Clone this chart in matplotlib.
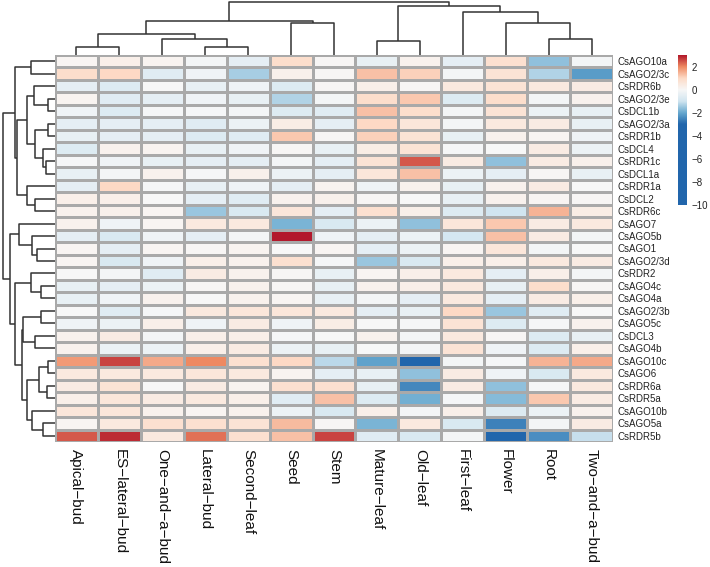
import numpy as np
import matplotlib
matplotlib.use("Agg")
import matplotlib.pyplot as plt
from matplotlib.colors import ListedColormap, LinearSegmentedColormap, Normalize

plt.rcParams['font.family'] = ['Liberation Sans', 'DejaVu Sans']

columns = ["Apical-bud", "ES-lateral-bud", "One-and-a-bud", "Lateral-bud", "Second-leaf",
           "Seed", "Stem", "Mature-leaf", "Old-leaf", "First-leaf", "Flower", "Root",
           "Two-and-a-bud"]

genes = ["CsAGO10a", "CsAGO2/3c", "CsRDR6b", "CsAGO2/3e", "CsDCL1b", "CsAGO2/3a", "CsRDR1b",
         "CsDCL4", "CsRDR1c", "CsDCL1a", "CsRDR1a", "CsDCL2", "CsRDR6c", "CsAGO7", "CsAGO5b",
         "CsAGO1", "CsAGO2/3d", "CsRDR2", "CsAGO4c", "CsAGO4a", "CsAGO2/3b", "CsAGO5c",
         "CsDCL3", "CsAGO4b", "CsAGO10c", "CsAGO6", "CsRDR6a", "CsRDR5a", "CsAGO10b",
         "CsAGO5a", "CsRDR5b"]

values = [
    [0.1, 0.3, 0.15, -0.1, -0.5, 0.9, 0.05, -0.4, 0.2, -0.5, 0.8, -1.6, -0.1],
    [0.9, 1.0, -0.6, -0.2, -1.4, 0.25, 0.05, 1.3, 1.1, -0.1, 0.7, -1.3, -2.2],
    [-0.5, -0.7, 0.0, -0.4, -0.2, -0.7, 0.05, 0.3, 0.05, 0.5, 0.7, 0.5, 0.4],
    [0.15, -0.6, -0.5, -0.2, -0.4, -1.3, -0.1, 0.9, 1.2, -0.7, 0.9, -0.1, 0.2],
    [-0.2, -0.7, -0.05, -0.05, -0.1, -0.7, -0.6, 1.3, 0.9, -0.1, 0.7, -0.3, -0.4],
    [-0.5, -0.5, -0.5, -0.6, -0.3, 0.35, -0.5, 1.0, 0.6, -0.1, 0.5, 0.4, -0.4],
    [-0.4, -0.5, -0.5, -0.7, -0.6, 1.2, 0.05, 1.1, 0.7, -0.4, 0.2, 0.1, -0.2],
    [-0.7, 0.2, 0.15, -0.4, -0.2, 0.05, -0.4, 0.35, 0.7, -0.05, 0.0, 0.4, -0.3],
    [-0.05, -0.2, -0.4, -0.5, -0.5, -0.1, -0.5, 0.7, 2.4, 0.4, -1.6, 0.4, 0.25],
    [-0.4, -0.1, 0.2, -0.05, 0.25, -0.3, -0.5, 0.6, 1.3, -0.3, -0.5, 0.05, -0.4],
    [-0.5, 1.0, -0.05, -0.4, -0.2, -0.5, 0.15, -0.2, 0.2, -0.4, 0.2, 0.4, 0.0],
    [0.3, 0.3, 0.0, -0.5, -0.6, 0.2, 0.25, 0.05, 0.0, -0.4, 0.2, 0.1, 0.05],
    [0.2, 0.25, 0.1, -1.5, -0.8, 0.6, -0.5, 0.8, 0.3, -0.7, -1.0, 1.5, 0.35],
    [0.2, -0.2, 0.1, 0.5, 0.5, -1.8, -0.8, -0.3, -1.6, 0.6, 1.2, 0.4, 0.5],
    [-0.5, -0.8, -0.2, -0.5, -0.1, 3.0, -0.2, -0.5, -0.3, -0.9, 1.3, 0.4, -0.1],
    [0.1, -0.5, 0.1, 0.05, 0.15, 0.0, 0.1, -0.5, -0.3, 0.1, 0.6, -0.1, 0.0],
    [0.1, -0.8, -0.2, 0.3, 0.2, 0.8, -0.05, -1.5, -0.8, 0.3, 0.3, 0.5, 0.4],
    [0.0, -0.1, -0.6, 0.4, 0.2, 0.05, -0.4, 0.1, 0.3, 0.5, -0.5, 0.3, -0.1],
    [-0.4, -0.5, -0.3, 0.05, 0.2, 0.05, -0.4, 0.2, 0.3, 0.5, -0.4, 0.9, 0.05],
    [-0.4, -0.2, 0.2, 0.0, 0.2, 0.1, -0.4, -0.1, -0.5, 0.5, -0.5, 0.4, 0.3],
    [0.0, -0.6, -0.05, 0.5, 0.6, 0.6, 0.5, -0.5, -0.4, 1.0, -1.5, -0.6, 0.0],
    [-0.2, -0.3, 0.3, -0.2, 0.4, -0.2, 0.35, 0.0, -0.05, 0.7, -0.7, -0.05, 0.2],
    [0.2, 0.4, -0.1, 0.3, 0.3, -0.05, 0.0, 0.2, -0.1, 0.5, 0.05, -0.7, -0.4],
    [0.2, -0.3, -0.3, 0.3, 0.4, -0.3, -0.4, 0.0, -0.1, 0.7, -0.2, -0.7, 0.3],
    [1.8, 2.6, 1.6, 2.0, 0.8, 1.0, -1.2, -2.1, -10.0, -0.1, -0.05, 1.5, 1.6],
    [0.5, 0.5, 0.5, 0.6, 0.5, 0.15, -0.5, -0.4, -1.6, 0.4, -0.2, -0.8, 0.5],
    [0.4, 0.7, 0.0, 0.4, 0.15, 0.8, 0.8, -0.4, -2.5, 0.4, -1.6, -0.05, 0.5],
    [0.3, 0.6, 0.4, 0.5, 0.3, -0.6, 1.3, -0.7, -1.9, -0.05, -1.7, 1.2, 0.4],
    [0.6, 0.6, 0.2, 0.1, 0.2, -0.3, -0.8, 0.3, -0.1, 0.3, -0.7, -0.3, 0.2],
    [0.1, 0.5, 0.8, 0.8, 0.7, 1.4, 0.05, -1.8, 0.5, -0.8, -2.6, -0.1, 0.4],
    [2.4, 2.8, 0.5, 2.2, 0.8, 1.3, 2.6, -0.6, -0.8, -0.1, -9.0, -2.4, -1.1],
]

# dendrograms: (left, right, merge height); leaves are indices in display order
col_tree = ((((0, 1, 8.3), (2, (3, 4, 8.3), 15.7), 21.3), (5, 6, 32.3), 34.3),
            ((7, 8, 14.3), (9, (10, (11, 12, 16.3), 32.3), 42.7), 49.0), 53.3)

row_top = ((0, 1, 24.0),
           ((((2, (3, 4, 6.7), 20.7), ((5, 6, 6.7), (7, (8, 9, 9.3), 12.3), 20.0), 28.3)),
            (10, (11, 12, 20.0), 28.3), 38.3), 40.0)
row_bottom = ((13, (14, (15, 16, 18.3), 22.7), 35.7),
              ((17, (18, 19, 14.3), 24.3),
               (((20, 21, 14.3), (22, 23, 20.0), 32.3),
                (((24, 25, 7.0), (26, 27, 8.3), 15.7), (28, (29, 30, 11.7), 23.3), 28.3),
                33.3), 40.0), 45.0)
row_tree = (row_top, row_bottom, 52.3)

data = np.array(values)
nrow, ncol = data.shape

# colour map: RdBu 7-class, saturating at +/-3, legend from -10 to 3
rdbu7 = ["#2166AC", "#67A9CF", "#D1E5F0", "#F7F7F7", "#FDDBC7", "#EF8A62", "#B2182B"]
base = LinearSegmentedColormap.from_list("rdbu7", rdbu7)
vmin, vmax = -10.0, 3.0
vs = np.linspace(vmin, vmax, 512)
cmap = ListedColormap([base((np.clip(v, -3, 3) + 3) / 6) for v in vs])
norm = Normalize(vmin=vmin, vmax=vmax)

W, H = 710, 567
fig = plt.figure(figsize=(W / 100, H / 100), dpi=100)

def ax_px(x0, y0, x1, y1):
    return fig.add_axes([x0 / W, 1 - y1 / H, (x1 - x0) / W, (y1 - y0) / H])

hm_l, hm_r, hm_t, hm_b = 55, 613, 55, 442

ax = ax_px(hm_l, hm_t, hm_r, hm_b)
ax.pcolormesh(np.arange(ncol + 1), np.arange(nrow + 1), data, cmap=cmap, norm=norm,
              edgecolors="#A9A9A9", linewidth=0.9)
ax.set_xlim(0, ncol)
ax.set_ylim(nrow, 0)
for s in ax.spines.values():
    s.set_visible(False)
ax.yaxis.tick_right()
ax.set_yticks(np.arange(nrow) + 0.5)
ax.set_yticklabels(genes, fontsize=7, color="#222222")
ax.set_xticks(np.arange(ncol) + 0.5)
ax.set_xticklabels([c.replace("-", "\u2212") for c in columns], rotation=-90,
                   fontsize=11, va="top", ha="center", color="#111111")
ax.tick_params(length=0, axis="y", pad=3)
ax.tick_params(length=0, axis="x", pad=5)

line_kw = dict(color="#333333", lw=1.1, solid_capstyle="butt", clip_on=False)

def draw_tree(a, node, horizontal):
    if isinstance(node, int):
        return node + 0.5, 0.0
    l, r, h = node
    pl, hl = draw_tree(a, l, horizontal)
    pr, hr = draw_tree(a, r, horizontal)
    ps = [pl, pl, pr, pr]
    hs = [hl, h, h, hr]
    if horizontal:
        a.plot(ps, hs, **line_kw)
    else:
        a.plot(hs, ps, **line_kw)
    return (pl + pr) / 2, h

axt = ax_px(hm_l, 0, hm_r, hm_t)
draw_tree(axt, col_tree, True)
axt.set_xlim(0, ncol)
axt.set_ylim(0, 55)
axt.axis("off")

axl = ax_px(0, hm_t, hm_l, hm_b)
draw_tree(axl, row_tree, False)
axl.set_xlim(55, 0)
axl.set_ylim(nrow, 0)
axl.axis("off")

cax = ax_px(678, 55, 687, 205)
grad = np.linspace(vmax, vmin, 512).reshape(-1, 1)
cax.imshow(grad, aspect="auto", cmap=cmap, norm=norm, extent=[0, 1, vmin, vmax])
cax.set_xticks([])
cax.yaxis.tick_right()
cax.set_yticks([2, 0, -2, -4, -6, -8, -10])
cax.tick_params(length=0, pad=3, labelsize=7, labelcolor="#222222")
for s in cax.spines.values():
    s.set_visible(False)

fig.savefig("out.png", dpi=100)
